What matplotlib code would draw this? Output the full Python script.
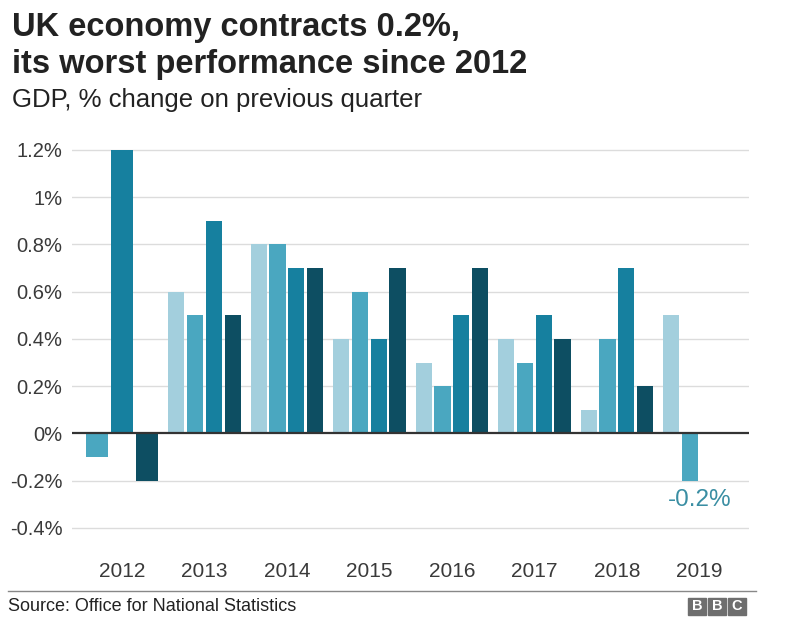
import matplotlib
matplotlib.use("Agg")
import matplotlib.pyplot as plt
from matplotlib.patches import Rectangle

plt.rcParams["font.family"] = ["Liberation Sans", "DejaVu Sans"]

# quarterly GDP growth, % on previous quarter (2012 starts at Q2, 2019 ends at Q2)
years = ["2012", "2013", "2014", "2015", "2016", "2017", "2018", "2019"]
first_quarter = [2, 1, 1, 1, 1, 1, 1, 1]
slots = [3, 4, 4, 4, 4, 4, 4, 4]
gdp = [
    [-0.1, 1.2, -0.2],
    [0.6, 0.5, 0.9, 0.5],
    [0.8, 0.8, 0.7, 0.7],
    [0.4, 0.6, 0.4, 0.7],
    [0.3, 0.2, 0.5, 0.7],
    [0.4, 0.3, 0.5, 0.4],
    [0.1, 0.4, 0.7, 0.2],
    [0.5, -0.2],
]
yticks = [-0.4, -0.2, 0, 0.2, 0.4, 0.6, 0.8, 1.0, 1.2]
ytick_labels = ["-0.4%", "-0.2%", "0%", "0.2%", "0.4%", "0.6%", "0.8%", "1%", "1.2%"]
quarter_colors = {1: "#a3cfdd", 2: "#4aa7c0", 3: "#16809f", 4: "#0d4e62"}

fig = plt.figure(figsize=(8, 6.26), dpi=100)
ax = fig.add_axes([0.09, 0.149, 0.846, 0.6306])

group_w = 0.91
for i, vals in enumerate(gdp):
    slot = group_w / slots[i]
    left = i - group_w / 2
    for j, v in enumerate(vals):
        q = first_quarter[i] + j
        ax.bar(left + slot * (j + 0.5), v, width=slot * 0.86,
               color=quarter_colors[q], zorder=2)

for t in yticks:
    if t != 0:
        ax.axhline(t, color="#dcdcdc", lw=1, zorder=1)
ax.axhline(0, color="#333333", lw=1.6, zorder=3)

ax.set_xlim(-0.606, 7.6)
ax.set_ylim(-0.42, 1.25)
ax.set_yticks(yticks)
ax.set_yticklabels(ytick_labels, fontsize=14.5, color="#3a3a3a")
ax.set_xticks(range(len(years)))
ax.set_xticklabels(years, fontsize=15, color="#3a3a3a")
ax.tick_params(axis="y", length=0, pad=7)
ax.tick_params(axis="x", length=0, pad=21)
for s in ax.spines.values():
    s.set_visible(False)

# label on latest quarter, centred under the 2019 group
last = len(gdp) - 1
ax.annotate("-0.2%", xy=(last, gdp[last][1]),
            xytext=(0, -6), textcoords="offset points", ha="center", va="top",
            fontsize=17.5, color="#3a8ea3")

fig.text(0.015, 1 - 36 / 626, "UK economy contracts 0.2%,", fontsize=23.5,
         fontweight="bold", color="#222222", va="baseline")
fig.text(0.015, 1 - 73 / 626, "its worst performance since 2012", fontsize=23.5,
         fontweight="bold", color="#222222", va="baseline")
fig.text(0.015, 1 - 107 / 626, "GDP, % change on previous quarter", fontsize=18.5,
         color="#222222", va="baseline")

fig.add_artist(plt.Line2D([0.01, 0.945], [1 - 591 / 626] * 2, color="#888888", lw=1))
fig.text(0.01, 1 - 611 / 626, "Source: Office for National Statistics", fontsize=13,
         color="#222222", va="baseline")
for k, letter in enumerate("BBC"):
    x0 = (688 + k * 20) / 800
    fig.add_artist(Rectangle((x0, 1 - 615 / 626), 18 / 800, 17 / 626,
                             transform=fig.transFigure, color="#6e6e6e"))
    fig.text(x0 + 9 / 800, 1 - 606.5 / 626, letter, fontsize=10.5, fontweight="bold",
             color="white", ha="center", va="center")

fig.savefig("out.png", dpi=100)
